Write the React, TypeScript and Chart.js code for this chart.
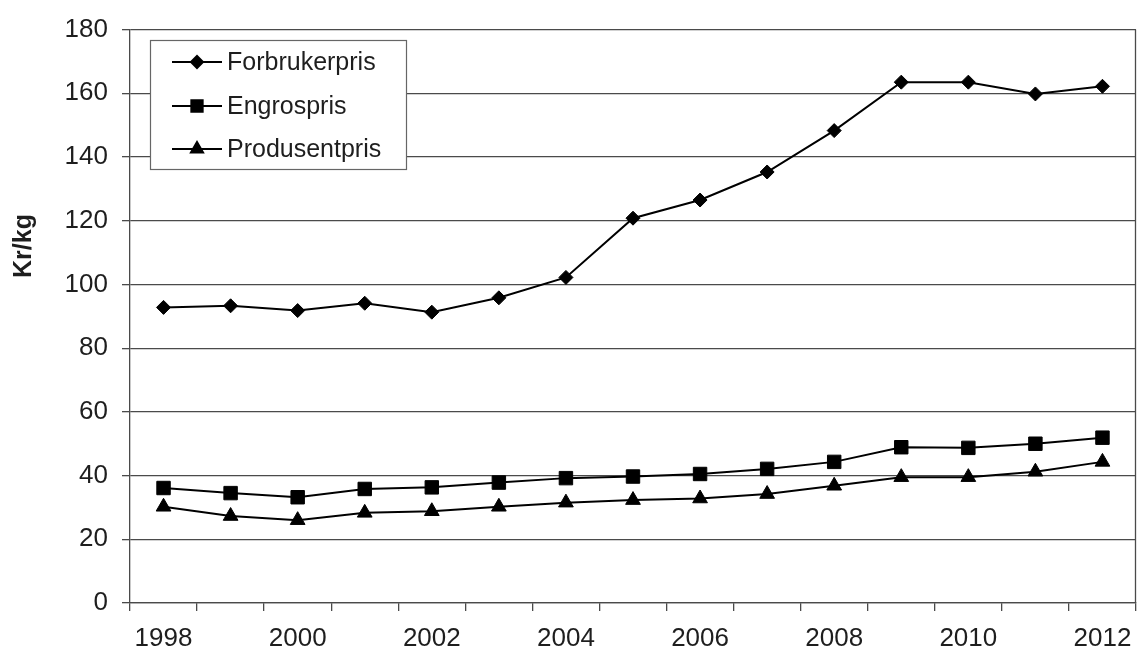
import { useEffect, useRef } from "react";
import { Chart, registerables } from "chart.js";
import { drawPoint } from "chart.js/helpers";

Chart.register(...registerables);

const years = ["1998", "1999", "2000", "2001", "2002", "2003", "2004", "2005", "2006", "2007", "2008", "2009", "2010", "2011", "2012"];
const forbrukerpris = [92.8, 93.3, 91.8, 94.1, 91.3, 95.8, 102.2, 120.8, 126.5, 135.3, 148.3, 163.5, 163.5, 159.8, 162.2];
const engrospris = [36.1, 34.5, 33.2, 35.8, 36.3, 37.8, 39.2, 39.7, 40.5, 42.1, 44.3, 48.9, 48.7, 50.0, 51.9];
const produsentpris = [30.2, 27.3, 26.0, 28.3, 28.8, 30.2, 31.5, 32.3, 32.8, 34.2, 36.8, 39.5, 39.5, 41.2, 44.3];

const font = "'Liberation Sans', Arial, sans-serif";
const gridColor = "#4a4a4a";
const textColor = "#1e1e1e";

// Boxed legend inside the plot, the y title and the right border of the plot.
const decorations = {
  id: "decorations",
  afterDatasetsDraw(chart: any) {
    const { ctx, chartArea } = chart;
    ctx.save();

    ctx.strokeStyle = gridColor;
    ctx.lineWidth = 1.3;
    ctx.beginPath();
    ctx.moveTo(chartArea.right - 0.5, chartArea.top);
    ctx.lineTo(chartArea.right - 0.5, chartArea.bottom);
    ctx.stroke();

    const box = { x: 150.5, y: 40.5, w: 256, h: 129 };
    ctx.fillStyle = "#fff";
    ctx.fillRect(box.x, box.y, box.w, box.h);
    ctx.strokeStyle = "#666";
    ctx.lineWidth = 1.2;
    ctx.strokeRect(box.x, box.y, box.w, box.h);

    const rows = [62, 106, 149];
    const sizes = [6, 8, 7];
    chart.data.datasets.forEach((ds: any, i: number) => {
      const y = rows[i];
      ctx.strokeStyle = "#000";
      ctx.lineWidth = 2;
      ctx.beginPath();
      ctx.moveTo(172, y);
      ctx.lineTo(222, y);
      ctx.stroke();
      ctx.fillStyle = "#000";
      drawPoint(ctx, { pointStyle: ds.pointStyle, radius: sizes[i], rotation: 0, borderWidth: 1 }, 197, y);
      ctx.fillStyle = textColor;
      ctx.font = `25px ${font}`;
      ctx.textAlign = "left";
      ctx.textBaseline = "middle";
      ctx.fillText(ds.label, 227, y + 1);
    });

    ctx.translate(24, 246);
    ctx.rotate(-Math.PI / 2);
    ctx.font = `bold 25px ${font}`;
    ctx.fillStyle = textColor;
    ctx.textAlign = "center";
    ctx.textBaseline = "middle";
    ctx.fillText("Kr/kg", 0, 0);
    ctx.restore();
  },
};

export default function App() {
  const canvasRef = useRef<HTMLCanvasElement>(null);

  useEffect(() => {
    const canvas = canvasRef.current;
    if (!canvas) return;

    const series = (label: string, data: number[], pointStyle: string, radius: number) => ({
      label,
      data,
      pointStyle,
      pointRadius: radius,
      borderColor: "#000",
      backgroundColor: "#000",
      pointBackgroundColor: "#000",
      pointBorderColor: "#000",
      pointBorderWidth: 1,
      borderWidth: 2,
      tension: 0,
      fill: false,
    });

    const chart = new Chart(canvas.getContext("2d")!, {
      type: "line",
      data: {
        labels: years,
        datasets: [
          series("Forbrukerpris", forbrukerpris, "rectRot", 7),
          series("Engrospris", engrospris, "rect", 9.5),
          series("Produsentpris", produsentpris, "triangle", 8.5),
        ],
      },
      options: {
        animation: false,
        responsive: true,
        maintainAspectRatio: false,
        layout: { autoPadding: false, padding: { top: 23, right: 1, left: 0, bottom: 0 } },
        plugins: {
          legend: { display: false },
          tooltip: { enabled: false },
        },
        scales: {
          x: {
            offset: true,
            afterFit: (scale: any) => {
              scale.height = 47;
              scale.paddingLeft = 0;
              scale.paddingRight = 0;
            },
            grid: { offset: true, drawOnChartArea: false, tickLength: 8, color: gridColor, lineWidth: 1.3 },
            border: { color: gridColor, width: 1.3 },
            ticks: {
              autoSkip: false,
              maxRotation: 0,
              padding: 12,
              color: textColor,
              font: { size: 26, family: font },
              callback: (_v: any, i: number) => (i % 2 === 0 ? years[i] : ""),
            },
          },
          y: {
            min: 0,
            max: 180,
            afterFit: (scale: any) => {
              scale.width = 130;
            },
            grid: { color: gridColor, tickLength: 8, lineWidth: 1.3 },
            border: { color: gridColor, width: 1.3 },
            ticks: {
              stepSize: 20,
              padding: 14,
              color: textColor,
              font: { size: 26, family: font },
            },
          },
        },
      },
      plugins: [decorations],
    });

    return () => chart.destroy();
  }, []);

  return (
    <div style={{ position: "fixed", left: 0, top: 0, width: 1137, height: 650, background: "#fff" }}>
      <canvas ref={canvasRef} />
    </div>
  );
}
